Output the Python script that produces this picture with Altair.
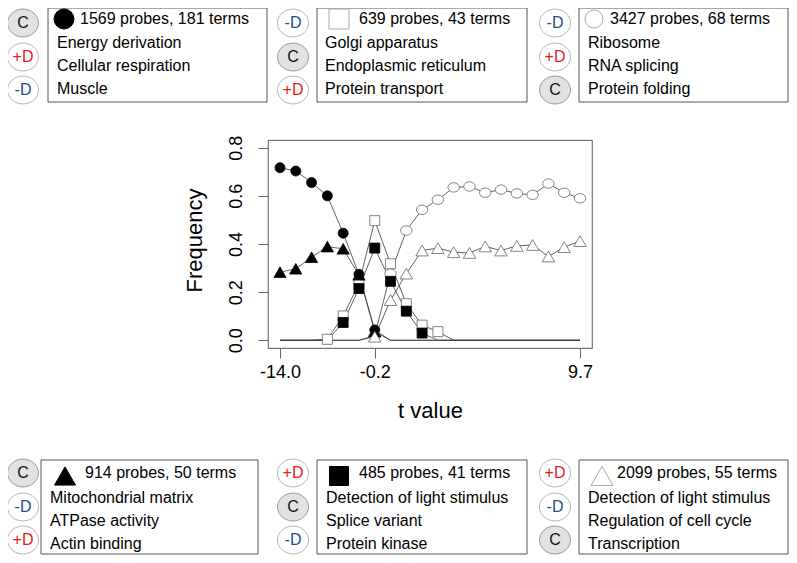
import altair as alt
import pandas as pd

FONT = "Liberation Sans"

# ---------------- data ----------------
T_INDEX = list(range(1, 21))
T_TICKS = [1, 7, 20]
T_LABELS = ["-14.0", "-0.2", "9.7"]
Y_TICKS = [0.0, 0.2, 0.4, 0.6, 0.8]

FILLED_CIRCLE = [0.717, 0.703, 0.655, 0.600, 0.445, 0.274, 0.043, 0, 0, 0,
                 0, 0, 0, 0, 0, 0, 0, 0, 0, 0]
FILLED_TRIANGLE = [0.283, 0.297, 0.345, 0.389, 0.380, 0.272, 0.036, 0, 0, 0,
                   0, 0, 0, 0, 0, 0, 0, 0, 0, 0]
OPEN_SQUARE = [0, 0, 0, 0.004, 0.101, 0.235, 0.497, 0.318, 0.152, 0.063,
               0.036, 0, 0, 0, 0, 0, 0, 0, 0, 0]
FILLED_SQUARE = [0, 0, 0, 0, 0.074, 0.215, 0.383, 0.245, 0.121, 0.030,
                 0, 0, 0, 0, 0, 0, 0, 0, 0, 0]
OPEN_CIRCLE = [0, 0, 0, 0, 0, 0, 0.02, 0.277, 0.456, 0.542,
               0.584, 0.635, 0.639, 0.613, 0.626, 0.610, 0.604, 0.651, 0.613, 0.590]
OPEN_TRIANGLE = [0, 0, 0, 0, 0, 0, 0.015, 0.167, 0.277, 0.373,
                 0.383, 0.366, 0.363, 0.390, 0.373, 0.392, 0.396, 0.348, 0.387, 0.412]

HEADERS = ["1569 probes, 181 terms", "639 probes, 43 terms", "3427 probes, 68 terms",
           "914 probes, 50 terms", "485 probes, 41 terms", "2099 probes, 55 terms"]
TERMS = [["Energy derivation", "Cellular respiration", "Muscle"],
         ["Golgi apparatus", "Endoplasmic reticulum", "Protein transport"],
         ["Ribosome", "RNA splicing", "Protein folding"],
         ["Mitochondrial matrix", "ATPase activity", "Actin binding"],
         ["Detection of light stimulus", "Splice variant", "Protein kinase"],
         ["Detection of light stimulus", "Regulation of cell cycle", "Transcription"]]
CODES = [["C", "+D", "-D"], ["-D", "C", "+D"], ["-D", "+D", "C"],
         ["C", "-D", "+D"], ["+D", "C", "-D"], ["+D", "-D", "C"]]

SERIES = [HEADERS[0], HEADERS[1], HEADERS[2], HEADERS[3], HEADERS[4], HEADERS[5]]
SERIES_VALUES = [FILLED_CIRCLE, OPEN_SQUARE, OPEN_CIRCLE, FILLED_TRIANGLE, FILLED_SQUARE, OPEN_TRIANGLE]

# ---------------- styles ----------------
GREY = "#666666"
ELLIPSE = "M 1 0 A 1 0.9 0 1 1 -1 0 A 1 0.9 0 1 1 1 0 Z"
FLAT_ELLIPSE = "M 1 0 A 1 0.82 0 1 1 -1 0 A 1 0.82 0 1 1 1 0 Z"
MARK_STYLE = [  # plot shape, box shape, fill, stroke, plot size, box size
    ("circle", "circle", "black", "black", 100, 400),
    ("square", "square", "white", GREY, 100, 400),
    (FLAT_ELLIPSE, "circle", "white", GREY, 132, 324),
    ("triangle-up", "triangle-up", "black", "black", 150, 441),
    ("square", "square", "black", "black", 100, 361),
    ("triangle-up", "triangle-up", "white", GREY, 155, 484),
]
BOX_MARK_STROKE = ["black", "#aaaaaa", "#aaaaaa", "black", "black", "#aaaaaa"]
CODE_COLOR = {"C": "#111111", "+D": "#e3201b", "-D": "#1f4e8c"}
CODE_FILL = {"C": "#e2e2e2", "+D": "white", "-D": "white"}
CODE_STROKE = {"C": "#9a9a9a", "+D": "#b5b5b5", "-D": "#b5b5b5"}

# ---------------- layout (page pixels) ----------------
PLOT_X0, PLOT_Y0, PLOT_W, PLOT_H = 260, 132, 324, 208
TOTAL_W, TOTAL_H = 781, 547
TOP = dict(y0=0, y1=94, cys=[15, 49, 82], hy=11, my=11, tys=[35, 58, 81])
BOT = dict(y0=452, y1=546, cys=[465, 499, 532], hy=465, my=468, tys=[490, 513, 536])
BOXES = [
    dict(TOP, x0=40, x1=259, cx=15, mx=56, hx=72, tx=49),
    dict(TOP, x0=309, x1=519, cx=285, mx=331, hx=351, tx=317),
    dict(TOP, x0=571, x1=780, cx=547, mx=586, hx=602, tx=580),
    dict(BOT, x0=33, x1=250, cx=15, mx=57, hx=77, tx=42),
    dict(BOT, x0=309, x1=519, cx=285, mx=331, hx=351, tx=318),
    dict(BOT, x0=571, x1=780, cx=547, mx=594, hx=609, tx=580),
]

# ---------------- main plot ----------------
rows = []
for name, vals in zip(SERIES, SERIES_VALUES):
    for t, v in zip(T_INDEX, vals):
        rows.append({"series": name, "t": t, "freq": v})
df = pd.DataFrame(rows)

label_expr = " : ".join(
    [f"datum.value == {v} ? '{l}'" for v, l in zip(T_TICKS[:-1], T_LABELS[:-1])]
) + f" : '{T_LABELS[-1]}'"

x_enc = alt.X("t:Q",
              scale=alt.Scale(domain=[0.24, 20.76], nice=False, zero=False),
              axis=alt.Axis(values=T_TICKS, labelExpr=label_expr, title="t value",
                            titleY=62, titleBaseline="middle", titleFontSize=22,
                            titleFontWeight="normal", titleFont=FONT,
                            labelFont=FONT, labelFontSize=18, labelColor="black",
                            tickSize=10, tickColor=GREY, labelPadding=5,
                            domain=False, grid=False, labelFlush=False, labelOverlap=False))
y_enc = alt.Y("freq:Q",
              scale=alt.Scale(domain=[-0.032, 0.832], nice=False, zero=False),
              axis=alt.Axis(values=Y_TICKS, format=".1f", labelAngle=270,
                            labelAlign="center", labelBaseline="middle", labelPadding=22,
                            labelFont=FONT, labelFontSize=18, labelColor="black",
                            tickSize=10, tickColor=GREY, title="Frequency",
                            titleX=-74, titleY=100, titleAngle=270, titleAlign="center",
                            titleBaseline="middle", titleFontSize=22, titleFontWeight="normal",
                            titleFont=FONT, domain=False, grid=False,
                            labelFlush=False, labelOverlap=False))

lines = alt.Chart(df).mark_line(color="#3a3a3a", strokeWidth=0.8).encode(
    x=x_enc, y=y_enc, detail="series:N", order="t:Q")

point_layers = []
for name, (shape, _, fill, stroke, psize, _) in zip(SERIES, MARK_STYLE):
    point_layers.append(
        alt.Chart(df).transform_filter(
            (alt.datum.series == name) & (alt.datum.freq > 0)
        ).mark_point(shape=shape, filled=True, fill=fill, stroke=stroke, size=psize,
                     strokeWidth=0.8, opacity=1).encode(
            x=alt.X("t:Q"), y=alt.Y("freq:Q"))
    )

main = alt.layer(lines, *point_layers)

# ---------------- annotation boxes ----------------
rect_rows, code_rows, mark_rows, text_rows = [], [], [], []
for i, b in enumerate(BOXES):
    ox, oy = PLOT_X0, PLOT_Y0
    rect_rows.append({"x": b["x0"] - ox, "x2": b["x1"] - ox, "y": b["y0"] - oy, "y2": b["y1"] - oy})
    for code, cy in zip(CODES[i], b["cys"]):
        code_rows.append({"x": b["cx"] - ox, "y": cy - oy, "code": code,
                          "fill": CODE_FILL[code], "stroke": CODE_STROKE[code],
                          "tc": CODE_COLOR[code]})
    _, bshape, fill, _, _, bsize = MARK_STYLE[i]
    mark_rows.append({"x": b["mx"] - ox, "y": b["my"] - oy, "shape": bshape, "fill": fill,
                      "stroke": BOX_MARK_STROKE[i], "size": bsize})
    text_rows.append({"x": b["hx"] - ox, "y": b["hy"] - oy, "text": HEADERS[i]})
    for term, ty in zip(TERMS[i], b["tys"]):
        text_rows.append({"x": b["tx"] - ox, "y": ty - oy, "text": term})

def px(field):
    return alt.X(f"{field}:Q", scale=None, axis=None)

def py(field):
    return alt.Y(f"{field}:Q", scale=None, axis=None)

rects = alt.Chart(pd.DataFrame(rect_rows)).mark_rect(
    fill="white", stroke="#555555", strokeWidth=1).encode(
    x=px("x"), x2="x2:Q", y=py("y"), y2="y2:Q")

ellipses = alt.Chart(pd.DataFrame(code_rows)).mark_point(
    shape=ELLIPSE, size=961, filled=True, opacity=1, strokeWidth=1).encode(
    x=px("x"), y=py("y"),
    fill=alt.Fill("fill:N", scale=None), stroke=alt.Stroke("stroke:N", scale=None))

code_text = alt.Chart(pd.DataFrame(code_rows)).mark_text(
    font=FONT, fontSize=16, align="center", baseline="middle").encode(
    x=px("x"), y=py("y"), text="code:N", color=alt.Color("tc:N", scale=None))

box_marks = alt.Chart(pd.DataFrame(mark_rows)).mark_point(
    filled=True, opacity=1, strokeWidth=1).encode(
    x=px("x"), y=py("y"),
    shape=alt.Shape("shape:N", scale=None), size=alt.Size("size:Q", scale=None),
    fill=alt.Fill("fill:N", scale=None), stroke=alt.Stroke("stroke:N", scale=None))

box_text = alt.Chart(pd.DataFrame(text_rows)).mark_text(
    font=FONT, fontSize=16, align="left", baseline="middle", color="black").encode(
    x=px("x"), y=py("y"), text="text:N")

chart = alt.layer(main, rects, ellipses, code_text, box_marks, box_text).resolve_scale(
    x="independent", y="independent"
).properties(
    width=PLOT_W, height=PLOT_H,
    padding={"left": PLOT_X0, "top": PLOT_Y0,
             "right": TOTAL_W - PLOT_X0 - PLOT_W, "bottom": TOTAL_H - PLOT_Y0 - PLOT_H},
    autosize=alt.AutoSizeParams(type="none"),
    background="white",
).configure_view(stroke="#777777", strokeWidth=1.2)

chart.save("out.html", embed_options={"renderer": "svg", "actions": False})
